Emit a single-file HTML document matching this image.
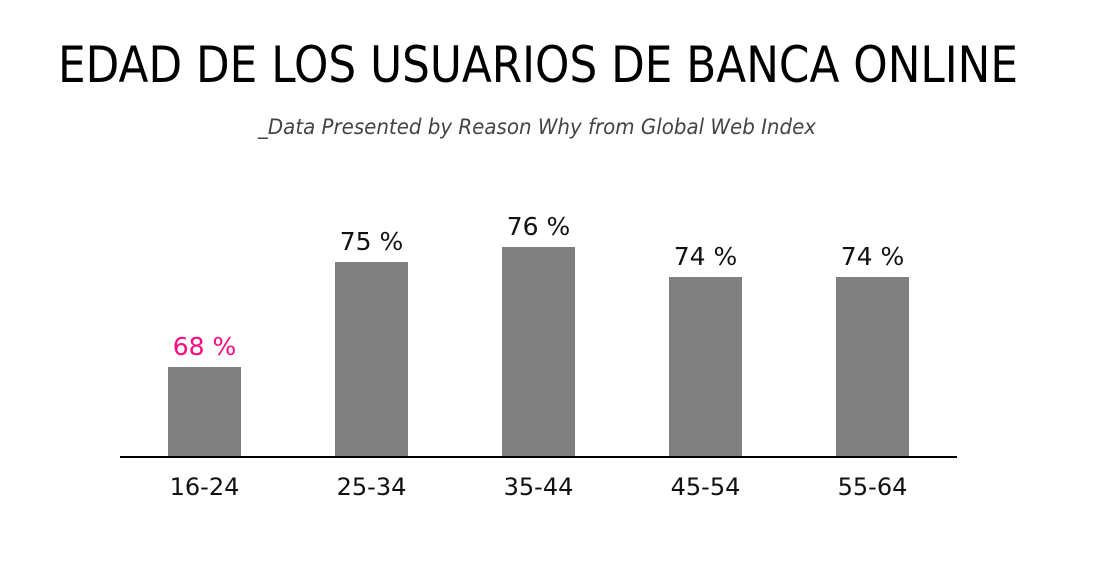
<!DOCTYPE html>
<html><head><meta charset="utf-8"><style>
html,body{margin:0;padding:0;background:#fff;width:1104px;height:570px;overflow:hidden}
svg{display:block;font-family:"DejaVu Sans","Liberation Sans",sans-serif}
</style></head><body>
<svg id="chart" width="1104" height="570">
<text x="58" y="82" font-size="50" fill="#000" textLength="960" lengthAdjust="spacingAndGlyphs">EDAD DE LOS USUARIOS DE BANCA ONLINE</text>
<text x="258" y="134" font-size="21" font-style="italic" fill="#444" textLength="558" lengthAdjust="spacingAndGlyphs">_Data Presented by Reason Why from Global Web Index</text>
<g id="bars"></g>
<line x1="120" y1="457" x2="957" y2="457" stroke="#000" stroke-width="2"/>
</svg>
<script>
const categories = ["16-24","25-34","35-44","45-54","55-64"];
const values = [68,75,76,74,74];
const valueLabels = ["68 %","75 %","76 %","74 %","74 %"];
const highlight = [true,false,false,false,false];

const baseY = 457, v0 = 62, pxPer = 15;
function yScale(v){ return baseY - (v - v0) * pxPer; }
function xCenter(i){ return 204.5 + i * 167; }
const barW = 73;
const ns = "http://www.w3.org/2000/svg";
const g = document.getElementById('bars');
categories.forEach((c,i)=>{
  const y = yScale(values[i]);
  const r = document.createElementNS(ns,'rect');
  r.setAttribute('x', xCenter(i)-barW/2);
  r.setAttribute('y', y);
  r.setAttribute('width', barW);
  r.setAttribute('height', baseY - y);
  r.setAttribute('fill', '#808080');
  
  
  g.appendChild(r);
  const t = document.createElementNS(ns,'text');
  t.setAttribute('x', xCenter(i));
  t.setAttribute('y', y - 12);
  t.setAttribute('text-anchor','middle');
  t.setAttribute('font-size','25');
  t.setAttribute('fill', highlight[i] ? '#ff0a7f' : '#111');
  t.textContent = valueLabels[i];
  
  
  g.appendChild(t);
  const l = document.createElementNS(ns,'text');
  l.setAttribute('x', xCenter(i));
  l.setAttribute('y', 495);
  l.setAttribute('text-anchor','middle');
  l.setAttribute('font-size','24');
  l.setAttribute('fill','#111');
  l.textContent = c;
  
  
  g.appendChild(l);
});
</script>
</body></html>
